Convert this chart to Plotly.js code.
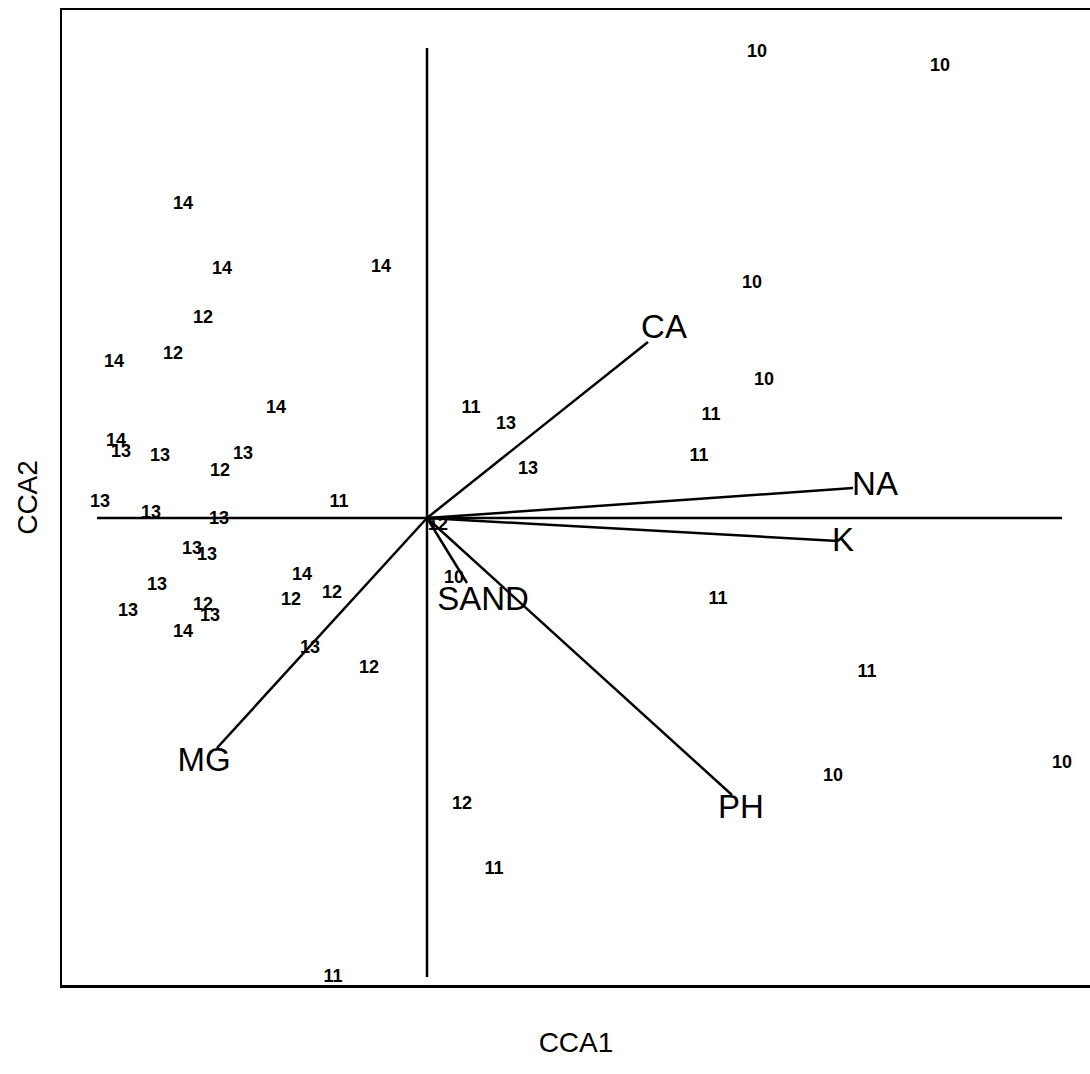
<!DOCTYPE html>
<html>
<head>
<meta charset="utf-8">
<script src="https://cdn.plot.ly/plotly-3.0.1.min.js"></script>
<style>html,body{margin:0;padding:0;background:#fff;}#chart{width:1090px;height:1074px;}</style>
</head>
<body>
<div id="chart"></div>
<script>
// Site scores (CCA1, CCA2) with their group labels
const siteLabels = ["10","10","14","14","14","12","12","14","10","10","14","11","13","11","11","13","14","13","13","13","12","13","11","13","13","13","13","13","13","12","13","14","14","12","12","13","12","10","12","11","11","10","10","12","11","11"];
const siteX = [3.30,5.13,-2.44,-2.05,-0.46,-2.24,-2.54,-3.13,3.25,3.37,-1.51,0.44,0.79,2.84,2.72,1.01,-3.11,-3.06,-2.67,-1.84,-2.07,-3.27,-0.88,-2.76,-2.08,-2.35,-2.20,-2.70,-2.99,-2.24,-2.17,-2.44,-1.25,-1.36,-0.95,-1.17,-0.58,0.27,0.11,2.91,4.40,4.06,6.35,0.35,0.67,-0.94];
const siteY = [4.66,4.52,3.14,2.49,2.51,2.00,1.64,1.56,2.35,1.38,1.10,1.10,0.94,1.03,0.62,0.49,0.77,0.66,0.62,0.64,0.47,0.16,0.16,0.05,-0.01,-0.31,-0.37,-0.67,-0.93,-0.87,-0.98,-1.14,-0.57,-0.82,-0.75,-1.30,-1.50,-0.60,-0.07,-0.81,-1.54,-2.58,-2.45,-2.86,-3.51,-4.59];

// Environmental biplot vectors
const envNames = ["CA","NA","K","PH","MG","SAND"];
const envX = [2.21,4.26,4.11,3.05,-2.10,0.40];
const envY = [1.76,0.30,-0.23,-2.77,-2.30,-0.65];
const envLabelX = [2.37,4.48,4.16,3.14,-2.23,0.56];
const envLabelY = [1.88,0.31,-0.25,-2.92,-2.45,-0.84];

// Reference axes through the origin
const axisHX = [-3.30, 6.35];
const axisVY = [4.70, -4.59];

const vecX = [], vecY = [];
for (let i = 0; i < envNames.length; i++) {
  vecX.push(0, envX[i], null);
  vecY.push(0, envY[i], null);
}

const traces = [
  {x: axisHX, y: [0,0], mode: 'lines', line: {color: '#000', width: 2.5}, hoverinfo: 'skip', showlegend: false},
  {x: [0,0], y: axisVY, mode: 'lines', line: {color: '#000', width: 2.5}, hoverinfo: 'skip', showlegend: false},
  {x: vecX, y: vecY, mode: 'lines', line: {color: '#000', width: 2.5}, hoverinfo: 'skip', showlegend: false},
  {x: siteX, y: siteY, mode: 'text', text: siteLabels, textposition: 'middle center',
   textfont: {family: 'Liberation Sans, Arial, sans-serif', size: 18, color: '#000', weight: 'bold'}, showlegend: false},
  {x: envLabelX, y: envLabelY, mode: 'text', text: envNames, textposition: 'middle center',
   textfont: {family: 'Liberation Sans, Arial, sans-serif', size: 33, color: '#000'}, showlegend: false}
];

const layout = {
  width: 1090, height: 1074,
  margin: {l: 62, r: 0, t: 10, b: 89},
  paper_bgcolor: '#fff', plot_bgcolor: '#fff',
  showlegend: false,
  xaxis: {range: [-3.65, 6.63], showgrid: false, zeroline: false, showticklabels: false, ticks: '',
          showline: true, mirror: true, linecolor: '#000', linewidth: 2.5,
          title: {text: 'CCA1', font: {family: 'Liberation Sans, Arial, sans-serif', size: 28, color: '#000'}, standoff: 46}},
  yaxis: {range: [-4.67, 5.08], showgrid: false, zeroline: false, showticklabels: false, ticks: '',
          showline: true, mirror: false, linecolor: '#000', linewidth: 2.5,
          title: {text: 'CCA2', font: {family: 'Liberation Sans, Arial, sans-serif', size: 28, color: '#000'}, standoff: 14}}
};

Plotly.newPlot('chart', traces, layout, {displayModeBar: false, staticPlot: true});
</script>
</body>
</html>
